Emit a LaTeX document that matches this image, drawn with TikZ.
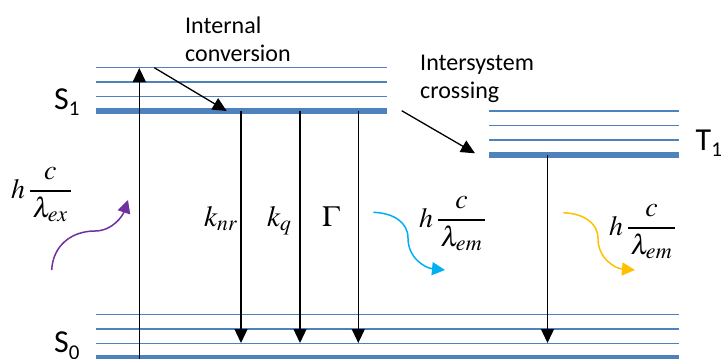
\documentclass[tikz,border=0pt]{standalone}
\usepackage{mathptmx}
\usepackage[no-math]{fontspec}
\setmainfont{Carlito}
\usetikzlibrary{arrows.meta}
\definecolor{lvblue}{HTML}{4F81BD}
\definecolor{purp}{HTML}{7030A0}
\definecolor{cyanc}{HTML}{00B0F0}
\definecolor{yel}{HTML}{FFC000}
\tikzset{
  lvl/.style={draw=lvblue, line width=1.2pt},
  lvlthick/.style={draw=lvblue, line width=6pt},
  tr/.style={line width=1.3pt, -{Triangle[length=14pt,width=13pt]}},
  wav/.style={line width=1.5pt, -{Triangle[length=13pt,width=13pt]}},
  lbl/.style={font=\fontsize{24}{28.5}\selectfont, align=left, inner sep=0pt, anchor=north west},
  mth/.style={font=\fontsize{24}{28}\selectfont, inner sep=0pt, anchor=base west},
  slbl/.style={font=\fontsize{32}{36}\selectfont, inner sep=0pt, anchor=base west}
}
\newcommand{\sublow}[1]{\raisebox{-6.5pt}{\fontsize{21}{21}\selectfont #1}}
\newcommand{\photon}[1]{\scalebox{1.16}{$\displaystyle h\,\frac{c}{\,\lambda_{\hbox{\fontsize{19}{19}\selectfont$\mathit{#1}$}}\,}$}}
\newcommand{\rate}[1]{\scalebox{1.22}{$#1$}}
\begin{document}
\begin{tikzpicture}[x=1pt,y=-1pt]
\useasboundingbox (0,0) rectangle (721,359);
% energy levels
\foreach \y in {67.5,82,96.7} \draw[lvl] (96,\y) -- (387,\y);
\draw[lvlthick] (96,111) -- (387,111);
\foreach \y in {111,125.7,140} \draw[lvl] (489,\y) -- (678.7,\y);
\draw[lvlthick] (489,154.7) -- (678.7,154.7);
\foreach \y in {314.3,329,343.3} \draw[lvl] (96,\y) -- (679,\y);
\draw[lvlthick] (96,357.5) -- (679,357.5);
% level labels
\node[slbl] (s1) at (54,109) {S\sublow{1}};
\node[slbl] (t1) at (695.5,150) {T\sublow{1}};
\node[slbl] (s0) at (54,352.7) {S\sublow{0}};
% text labels
\node[lbl] (ic) at (185,16.5) {Internal\\conversion};
\node[lbl] (isc) at (420,54.5) {Intersystem\\crossing};
% coordinates
\coordinate (exA) at (139.3,359);
\coordinate (exB) at (139.3,68);
\coordinate (icA) at (154.3,67.7);
\coordinate (icB) at (226.7,111);
\coordinate (d1a) at (241,111);   \coordinate (d1b) at (241,343);
\coordinate (d2a) at (300,111);   \coordinate (d2b) at (300,343);
\coordinate (d3a) at (358.3,111); \coordinate (d3b) at (358.3,343);
\coordinate (iscA) at (401.7,110.7);
\coordinate (iscB) at (475,153.3);
\coordinate (t1a) at (547.5,155); \coordinate (t1b) at (547.5,343);
% transitions
\draw[tr] (exA) -- (exB);
\draw[tr] (icA) -- (icB);
\draw[tr] (d1a) -- (d1b);
\draw[tr] (d2a) -- (d2b);
\draw[tr] (d3a) -- (d3b);
\draw[tr] (iscA) -- (iscB);
\draw[tr] (t1a) -- (t1b);
% wavy photon arrows
\coordinate (pA) at (51.7,270); \coordinate (pM) at (95,231); \coordinate (pB) at (128,200);
\draw[wav, purp] (pA) .. controls (53,245) and (72,231) .. (pM) .. controls (113,231) and (123,215) .. (pB);
\coordinate (cA) at (373.3,212.3); \coordinate (cM) at (408,238); \coordinate (cB) at (445,270);
\draw[wav, cyanc] (cA) .. controls (393,213) and (408,222) .. (cM) .. controls (408,258) and (425,268) .. (cB);
\coordinate (yA) at (563.3,212.7); \coordinate (yM) at (598,238.5); \coordinate (yB) at (635,270);
\draw[wav, yel] (yA) .. controls (583,213.5) and (598,222.5) .. (yM) .. controls (598,258.5) and (615,268.5) .. (yB);
% math labels
\node[mth] (hex) at (11,198) {\photon{ex}};
\node[mth] (knr) at (204,226) {\rate{k_{nr}}};
\node[mth] (kq) at (267,226) {\rate{k_{q}}};
\node[mth] (gam) at (322,226) {\rate{\Gamma}};
\node[mth] (hem1) at (419,227) {\photon{em}};
\node[mth] (hem2) at (609,235) {\photon{em}};
\end{tikzpicture}
\end{document}
